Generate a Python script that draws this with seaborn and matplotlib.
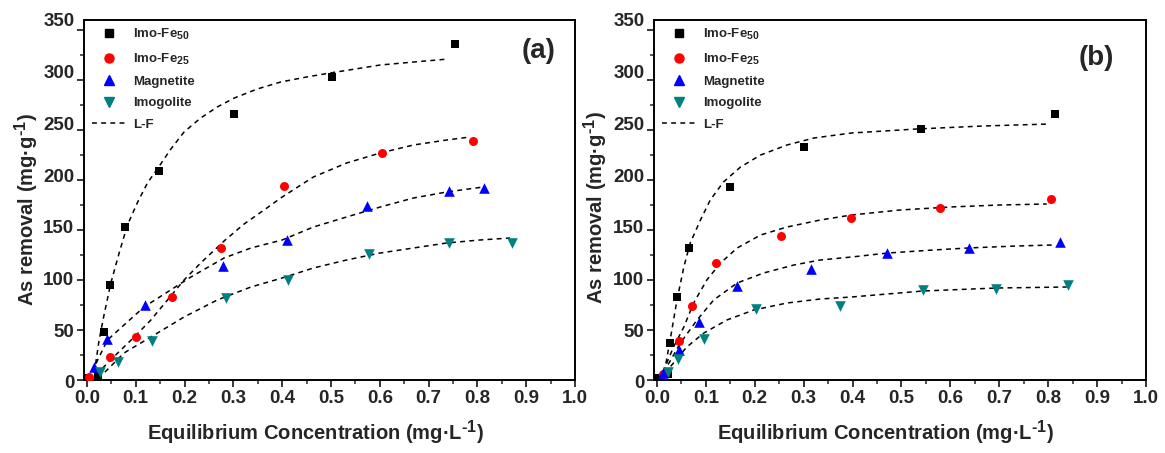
import numpy as np
import pandas as pd
import matplotlib
matplotlib.use("Agg")
import matplotlib.pyplot as plt
import matplotlib._mathtext as _mt
from matplotlib.lines import Line2D
from matplotlib.ticker import MultipleLocator
from matplotlib.transforms import ScaledTranslation
import seaborn as sns

# sub/superscripts in the original are only slightly smaller than the text
_mt.SHRINK_FACTOR = 0.8

# ---------------- data ----------------
series_names = ["Imo-Fe$_{50}$", "Imo-Fe$_{25}$", "Magnetite", "Imogolite"]
series_colors = ["#000000", "#FF0000", "#0000FF", "#008080"]
series_markers = ["s", "o", "^", "v"]
panel_tags = ["(a)", "(b)"]

# Panel (a) measured points
a_fe50_x = [0.003, 0.022, 0.035, 0.048, 0.079, 0.147, 0.301, 0.503, 0.754]
a_fe50_y = [2, 5, 48, 95, 153, 209, 266, 303, 336]
a_fe25_x = [0.005, 0.048, 0.100, 0.175, 0.274, 0.403, 0.604, 0.790]
a_fe25_y = [3, 23, 43, 83, 132, 194, 227, 239]
a_mag_x = [0.014, 0.042, 0.118, 0.278, 0.410, 0.573, 0.741, 0.814]
a_mag_y = [13, 41, 75, 114, 140, 174, 189, 192]
a_imo_x = [0.026, 0.063, 0.134, 0.285, 0.412, 0.577, 0.741, 0.871]
a_imo_y = [8, 18, 39, 82, 100, 126, 137, 137]

# Panel (a) L-F fitted curves
a_fe50_fx = [0.003, 0.015, 0.025, 0.035, 0.049, 0.066, 0.083, 0.104, 0.124, 0.147, 0.172, 0.199, 0.233, 0.267, 0.302, 0.349, 0.397, 0.450, 0.498, 0.550, 0.601, 0.670, 0.741]
a_fe50_fy = [0, 7, 40, 65, 97, 127, 155, 178, 197, 213, 231, 248, 262, 273, 282, 291, 298, 303, 307, 311, 315, 318, 321]
a_fe25_fx = [0.003, 0.022, 0.063, 0.097, 0.131, 0.165, 0.199, 0.233, 0.281, 0.322, 0.363, 0.400, 0.464, 0.532, 0.601, 0.669, 0.737, 0.785]
a_fe25_fy = [0, 7, 27, 43, 60, 80, 100, 117, 139, 156, 170, 183, 203, 217, 227, 235, 240, 243]
a_mag_fx = [0.003, 0.015, 0.042, 0.076, 0.117, 0.165, 0.213, 0.281, 0.336, 0.400, 0.464, 0.532, 0.601, 0.669, 0.737, 0.812]
a_mag_fy = [0, 13, 40, 55, 73, 88, 103, 122, 132, 140, 153, 163, 173, 182, 188, 193]
a_imo_fx = [0.003, 0.035, 0.076, 0.131, 0.199, 0.267, 0.336, 0.400, 0.464, 0.532, 0.601, 0.669, 0.737, 0.805, 0.867]
a_imo_fy = [0, 7, 27, 43, 63, 80, 93, 102, 112, 120, 127, 132, 137, 140, 142]

# Panel (b) measured points
b_fe50_x = [0.002, 0.022, 0.026, 0.041, 0.065, 0.149, 0.300, 0.540, 0.814]
b_fe50_y = [2, 6, 37, 83, 132, 193, 233, 251, 266]
b_fe25_x = [0.012, 0.046, 0.072, 0.121, 0.254, 0.396, 0.579, 0.806]
b_fe25_y = [6, 39, 74, 117, 144, 162, 172, 181]
b_mag_x = [0.012, 0.045, 0.085, 0.163, 0.315, 0.471, 0.638, 0.824]
b_mag_y = [7, 30, 58, 94, 111, 127, 132, 138]
b_imo_x = [0.022, 0.043, 0.096, 0.203, 0.375, 0.544, 0.694, 0.841]
b_imo_y = [8, 21, 41, 71, 74, 90, 91, 95]

# Panel (b) L-F fitted curves
b_fe50_fx = [0.003, 0.017, 0.027, 0.041, 0.055, 0.068, 0.089, 0.109, 0.136, 0.171, 0.212, 0.266, 0.321, 0.398, 0.531, 0.667, 0.804]
b_fe50_fy = [0, 13, 40, 80, 113, 137, 160, 180, 198, 213, 225, 235, 242, 247, 251, 254, 256]
b_fe25_fx = [0.003, 0.014, 0.034, 0.055, 0.075, 0.102, 0.130, 0.164, 0.212, 0.266, 0.334, 0.398, 0.497, 0.599, 0.701, 0.797]
b_fe25_fy = [0, 10, 33, 53, 77, 100, 117, 132, 145, 153, 160, 165, 170, 173, 175, 176]
b_mag_fx = [0.003, 0.020, 0.048, 0.082, 0.116, 0.164, 0.218, 0.280, 0.334, 0.398, 0.473, 0.565, 0.636, 0.735, 0.810]
b_mag_fy = [0, 13, 37, 60, 80, 97, 107, 115, 120, 123, 127, 130, 132, 134, 135]
b_imo_fx = [0.003, 0.027, 0.061, 0.096, 0.143, 0.198, 0.266, 0.334, 0.398, 0.544, 0.695, 0.838]
b_imo_fy = [0, 13, 33, 47, 60, 70, 77, 81, 83, 89, 92, 93]

x_ticks = [0.0, 0.1, 0.2, 0.3, 0.4, 0.5, 0.6, 0.7, 0.8, 0.9, 1.0]
y_ticks = [0, 50, 100, 150, 200, 250, 300, 350]
x_label = r"Equilibrium Concentration (mg·L$^{\text{-}1}$)"
y_label = r"As removal (mg·g$^{\text{-}1}$)"
fit_label = "L-F"

panels = [
    {
        "pts": [(a_fe50_x, a_fe50_y), (a_fe25_x, a_fe25_y), (a_mag_x, a_mag_y), (a_imo_x, a_imo_y)],
        "fit": [(a_fe50_fx, a_fe50_fy), (a_fe25_fx, a_fe25_fy), (a_mag_fx, a_mag_fy), (a_imo_fx, a_imo_fy)],
    },
    {
        "pts": [(b_fe50_x, b_fe50_y), (b_fe25_x, b_fe25_y), (b_mag_x, b_mag_y), (b_imo_x, b_imo_y)],
        "fit": [(b_fe50_fx, b_fe50_fy), (b_fe25_fx, b_fe25_fy), (b_mag_fx, b_mag_fy), (b_imo_fx, b_imo_fy)],
    },
]

# ---------------- styling ----------------
sns.set_style("ticks")
plt.rcParams["font.family"] = ["Liberation Sans", "DejaVu Sans"]
plt.rcParams["font.weight"] = "bold"
plt.rcParams["mathtext.fontset"] = "custom"
plt.rcParams["mathtext.rm"] = "Liberation Sans:bold"
plt.rcParams["mathtext.it"] = "Liberation Sans:bold"
plt.rcParams["mathtext.bf"] = "Liberation Sans:bold"
plt.rcParams["mathtext.default"] = "rm"

fig = plt.figure(figsize=(11.65, 4.53), dpi=100)
axes_rects = [
    [84 / 1165, 73 / 453, 491 / 1165, 360 / 453],
    [654 / 1165, 73 / 453, 492 / 1165, 360 / 453],
]
marker_sizes = [36, 42, 58, 58]
legend_msizes = [5.5, 6.5, 7.5, 7.5]
dash = (0, (3.2, 2.8))
ylabel_coords = [(-0.087, 0.472), (-0.089, 0.479)]
tag_positions = [(0.925, 0.915), (0.90, 0.895)]

for p_idx, panel in enumerate(panels):
    ax = fig.add_axes(axes_rects[p_idx])
    handles = []
    for i, (xs, ys) in enumerate(panel["pts"]):
        df = pd.DataFrame({"x": xs, "y": ys})
        sns.scatterplot(data=df, x="x", y="y", ax=ax, marker=series_markers[i],
                        color=series_colors[i], s=marker_sizes[i], linewidth=0,
                        zorder=3, legend=False)
        handles.append(Line2D([], [], linestyle="none", marker=series_markers[i],
                              color=series_colors[i], markersize=legend_msizes[i],
                              label=series_names[i]))
    for i, (fx, fy) in enumerate(panel["fit"]):
        dff = pd.DataFrame({"x": fx, "y": fy})
        sns.lineplot(data=dff, x="x", y="y", ax=ax, color="black", sort=False,
                     estimator=None, linewidth=1.1, zorder=2)
        ax.lines[-1].set_linestyle(dash)
    handles.append(Line2D([], [], color="black", linewidth=1.1,
                          linestyle=dash, label=fit_label))

    ax.set_xlim(-0.006, 1.0)
    ax.set_ylim(0, 360)
    ax.set_xticks(x_ticks)
    ax.set_xticklabels([f"{t:.1f}" for t in x_ticks])
    ax.set_yticks(y_ticks)
    ax.set_yticklabels([str(t) for t in y_ticks])
    ax.xaxis.set_minor_locator(MultipleLocator(0.05))
    ax.yaxis.set_minor_locator(MultipleLocator(25))
    ax.tick_params(axis="both", which="major", direction="out", length=5, width=1.3,
                   labelsize=13.5, pad=2, top=False, right=False)
    ax.tick_params(axis="both", which="minor", direction="out", length=3, width=1.1,
                   top=False, right=False)
    for lab in ax.get_xticklabels():
        lab.set_fontweight("bold")
    # y tick labels in the original sit slightly above their ticks near the top
    for tick, v in zip(ax.yaxis.get_major_ticks(), y_ticks):
        lab = tick.label1
        lab.set_fontweight("bold")
        dy_px = v * (362.0 / 350.0 - 1.0) - 2.0
        lab.set_transform(lab.get_transform() +
                          ScaledTranslation(0, dy_px / 100.0, fig.dpi_scale_trans))
    for sp in ax.spines.values():
        sp.set_visible(True)
        sp.set_linewidth(1.4)
        sp.set_color("black")
    ax.set_xlabel(x_label, fontsize=14.5, fontweight="bold")
    ax.xaxis.set_label_coords(0.471, -0.108)
    ax.set_ylabel(y_label, fontsize=14.5, fontweight="bold")
    ax.yaxis.set_label_coords(*ylabel_coords[p_idx])

    leg = ax.legend(handles=handles, loc="upper left", frameon=False,
                    fontsize=9.5, handlelength=2.6, handletextpad=0.5,
                    labelspacing=0.7, borderaxespad=0.0,
                    bbox_to_anchor=(0.005, 0.995))
    for t in leg.get_texts():
        t.set_fontweight("bold")

    tx, ty = tag_positions[p_idx]
    ax.text(tx, ty, panel_tags[p_idx], transform=ax.transAxes,
            fontsize=20, fontweight="bold", ha="center", va="center")

fig.savefig("out.png", dpi=100)
